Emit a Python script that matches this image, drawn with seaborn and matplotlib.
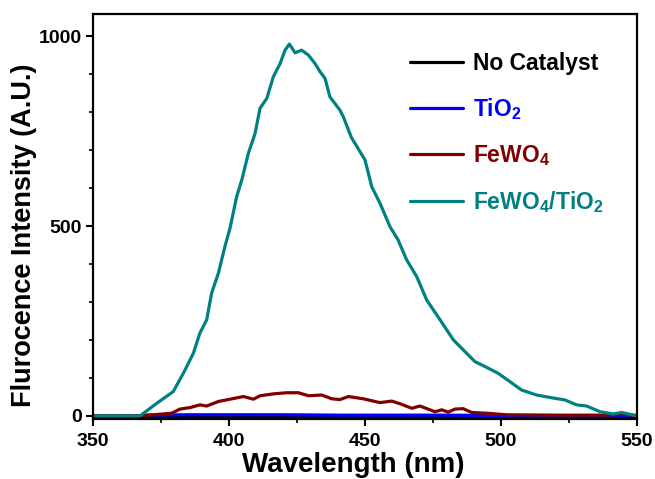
import matplotlib
matplotlib.use("Agg")
import matplotlib.pyplot as plt
from matplotlib.ticker import MultipleLocator
import seaborn as sns
import pandas as pd

# ---- data ----
series_names = ["No Catalyst", "TiO$_\\mathbf{2}$", "FeWO$_\\mathbf{4}$", "FeWO$_\\mathbf{4}$/TiO$_\\mathbf{2}$"]

none_wl = [350, 400, 450, 500, 550]
none_val = [0, 0, 0, 0, 0]

tio2_wl = [350, 367, 370, 385, 400, 420, 440, 460, 480, 500, 510, 550]
tio2_val = [0, 0, 2, 3, 3, 3, 2, 2, 2, 1, 0, 0]

fewo4_wl = [350, 367.3, 378.9, 382, 385.7, 389.3, 391.8, 396.1, 400.4, 405.3, 409, 411.4,
            416.3, 421.2, 425.5, 429.2, 434.1, 437.8, 440.8, 443.9, 449.4, 455.5, 459.8,
            462.9, 467.2, 470.2, 475.7, 478.2, 480.6, 483.1, 486.1, 489.2, 494.7, 502,
            520, 539, 545, 550]
fewo4_val = [0, 0, 7, 18, 22, 29, 26, 38, 44, 51, 44, 53,
             58, 61, 61, 53, 55, 45, 43, 51, 45, 35, 39,
             32, 20, 26, 11, 16, 10, 18, 19, 9, 7, 3,
             2, 2, 4, 1]

comp_wl = [350, 367.3, 373.4, 379.5, 383.2, 386.9, 389.3, 391.8, 393.6, 396.1, 398.5, 400.4,
           402.8, 404.7, 407.1, 409.6, 411.4, 413.9, 416.3, 418.8, 420.6, 422.2, 424.3, 426.7,
           429.2, 431.6, 433.5, 435.3, 437.1, 440.8, 442, 445, 450, 452.5, 455.5, 459.2,
           462.2, 465.3, 469, 472.7, 477.6, 482.5, 486.1, 490.4, 494.1, 499, 503.3, 507.6,
           513.1, 519.2, 523.5, 527.8, 531.5, 536.4, 541.3, 544.4, 550]
comp_val = [0, 0, 33, 64, 112, 165, 218, 253, 323, 376, 446, 495,
            577, 621, 691, 744, 810, 836, 893, 928, 963, 979, 956, 963,
            950, 928, 906, 889, 840, 805, 788, 733, 674, 603, 560, 498,
            463, 411, 367, 305, 253, 200, 174, 143, 130, 112, 90, 68,
            55, 47, 42, 29, 26, 11, 5, 9, 0]

colors = ["#000000", "#0000FF", "#800000", "#008080"]

frames = []
for name, wl, val in zip(series_names,
                         [none_wl, tio2_wl, fewo4_wl, comp_wl],
                         [none_val, tio2_val, fewo4_val, comp_val]):
    frames.append(pd.DataFrame({"Wavelength": wl, "Intensity": val, "Sample": name}))
df = pd.concat(frames, ignore_index=True)

# ---- style ----
sns.set_style("ticks")
plt.rcParams["font.family"] = ["Liberation Sans", "DejaVu Sans"]
plt.rcParams["font.weight"] = "bold"
plt.rcParams["mathtext.fontset"] = "custom"
plt.rcParams["mathtext.rm"] = "Liberation Sans:bold"
plt.rcParams["mathtext.bf"] = "Liberation Sans:bold"
plt.rcParams["mathtext.it"] = "Liberation Sans:bold"
for key in ["text.color", "axes.labelcolor", "xtick.color", "ytick.color", "axes.edgecolor"]:
    plt.rcParams[key] = "black"

fig = plt.figure(figsize=(6.55, 4.79), dpi=100)
ax = fig.add_axes([0.142, 0.1246, 0.8305, 0.846])

sns.lineplot(data=df, x="Wavelength", y="Intensity", hue="Sample",
             hue_order=series_names, palette=colors, estimator=None,
             sort=False, linewidth=2.3, ax=ax)

ax.set_xlim(350, 550)
ax.set_ylim(-9, 1058)
ax.xaxis.set_major_locator(MultipleLocator(50))
ax.xaxis.set_minor_locator(MultipleLocator(25))
ax.yaxis.set_major_locator(MultipleLocator(500))
ax.yaxis.set_minor_locator(MultipleLocator(100))
ax.tick_params(which="major", direction="out", length=5, width=1.5, labelsize=14, pad=3,
               colors="black")
ax.tick_params(axis="x", which="major", pad=5)
ax.tick_params(which="minor", direction="out", length=3, width=1.2, colors="black")
for lab in ax.get_xticklabels() + ax.get_yticklabels():
    lab.set_fontweight("bold")
for sp in ax.spines.values():
    sp.set_linewidth(1.6)
    sp.set_color("black")
    sp.set_visible(True)

ax.set_xlabel("Wavelength (nm)", fontsize=20, fontweight="bold")
ax.set_ylabel("Flurocence Intensity (A.U.)", fontsize=19.5, fontweight="bold")
ax.xaxis.set_label_coords(0.479, -0.08)
ax.yaxis.set_label_coords(-0.103, 0.455)

leg = ax.legend(loc="upper left", bbox_to_anchor=(0.545, 0.958), frameon=False,
                handlelength=2.3, handletextpad=0.45, labelspacing=0.93,
                prop={"weight": "bold", "size": 16.5})
for txt, line, c in zip(leg.get_texts(), leg.get_lines(), colors):
    txt.set_color(c)
    line.set_linewidth(2.3)

fig.savefig("out.png", dpi=100)
